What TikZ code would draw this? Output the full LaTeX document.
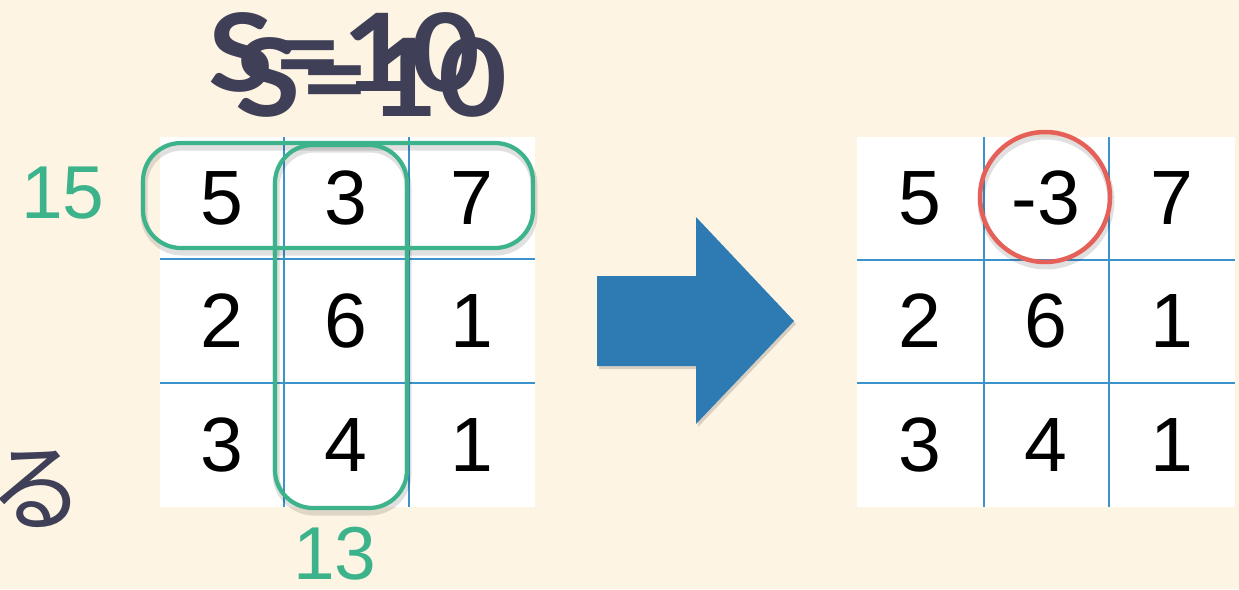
\documentclass[tikz,border=0pt]{standalone}
\usepackage{fontspec}
\setmainfont{Liberation Sans}
\newfontfamily\cjk{Noto Sans CJK JP}
\newfontfamily\titlefont[FakeStretch=1.1]{Lato}
\newfontfamily\digitfont{Liberation Sans}
\definecolor{bgcream}{HTML}{FEF4E3}
\definecolor{ink}{HTML}{3F4058}
\definecolor{mint}{HTML}{3DB38C}
\definecolor{gridblue}{HTML}{3C93CC}
\definecolor{arrowblue}{HTML}{2E7BB4}
\definecolor{circred}{HTML}{E6605A}
\tikzset{
  cell/.style={font=\digitfont\fontsize{77}{77}\selectfont, text=black, inner sep=0pt},
  sumlabel/.style={font=\digitfont\fontsize{75}{75}\selectfont, text=mint, inner sep=0pt},
  titletext/.style={font=\titlefont\bfseries\fontsize{108}{108}\selectfont, text=ink, inner sep=0pt, anchor=base west},
  gridline/.style={draw=gridblue, line width=1.8pt},
  groupbox/.style={draw=mint, line width=4.2pt, rounded corners=38pt},
  boxshadow/.style={draw=black, opacity=0.12, line width=7pt, rounded corners=38pt},
}
\begin{document}
\begin{tikzpicture}[x=1pt,y=-1pt]
\useasboundingbox (0,0) rectangle (1239,589);
\fill[bgcream] (0,0) rectangle (1239,589);
% title (two overlapping copies)
\node[titletext] (t1) at (208,91) {S=10};
\node[titletext] (t2) at (235,116) {S=10};
% partial kana at left edge
\begin{scope}
\clip (0,0) rectangle (1239,589);
\node[font=\cjk\fontsize{96}{96}\selectfont, text=ink, inner sep=0pt] (ru) at (37,489) {る};
\end{scope}
% left grid
\fill[white] (160,137) rectangle (535,507);
\draw[gridline] (284,137) -- (284,507) (409,137) -- (409,507)
  (160,259) -- (535,259) (160,383) -- (535,383);
\node[cell] (a11) at (222,198) {5};
\node[cell] (a12) at (346,198) {3};
\node[cell] (a13) at (472,198) {7};
\node[cell] (a21) at (222,321) {2};
\node[cell] (a22) at (346,321) {6};
\node[cell] (a23) at (472,321) {1};
\node[cell] (a31) at (222,445) {3};
\node[cell] (a32) at (346,445) {4};
\node[cell] (a33) at (472,445) {1};
% group boxes
\draw[boxshadow] (144,147) rectangle (534,252);
\draw[boxshadow] (276,149) rectangle (408,512);
\draw[groupbox] (143,143) rectangle (533,248);
\draw[groupbox] (275,145) rectangle (407,508);
\node[sumlabel] (s15) at (63,193) {15};
\node[sumlabel] (s13) at (335,554) {13};
% big arrow
\fill[black, opacity=0.15] (599,279) -- (698,279) -- (698,220) -- (796,324) -- (698,427) -- (698,369) -- (599,369) -- cycle;
\fill[arrowblue] (597,276) -- (696,276) -- (696,217) -- (794,321) -- (696,424) -- (696,366) -- (597,366) -- cycle;
% right grid
\fill[white] (857,137) rectangle (1235,507);
\draw[gridline] (984,137) -- (984,507) (1109,137) -- (1109,507)
  (857,260) -- (1235,260) (857,383) -- (1235,383);
\node[cell] (b11) at (920,198) {5};
\node[cell] (b12) at (1046,198) {-3};
\node[cell] (b13) at (1172,198) {7};
\node[cell] (b21) at (920,321) {2};
\node[cell] (b22) at (1046,321) {6};
\node[cell] (b23) at (1172,321) {1};
\node[cell] (b31) at (920,445) {3};
\node[cell] (b32) at (1046,445) {4};
\node[cell] (b33) at (1172,445) {1};
\draw[black, opacity=0.12, line width=7pt] (1046,201) circle[radius=65];
\draw[circred, line width=4.5pt] (1045,197) circle[radius=65];
\end{tikzpicture}
\end{document}
